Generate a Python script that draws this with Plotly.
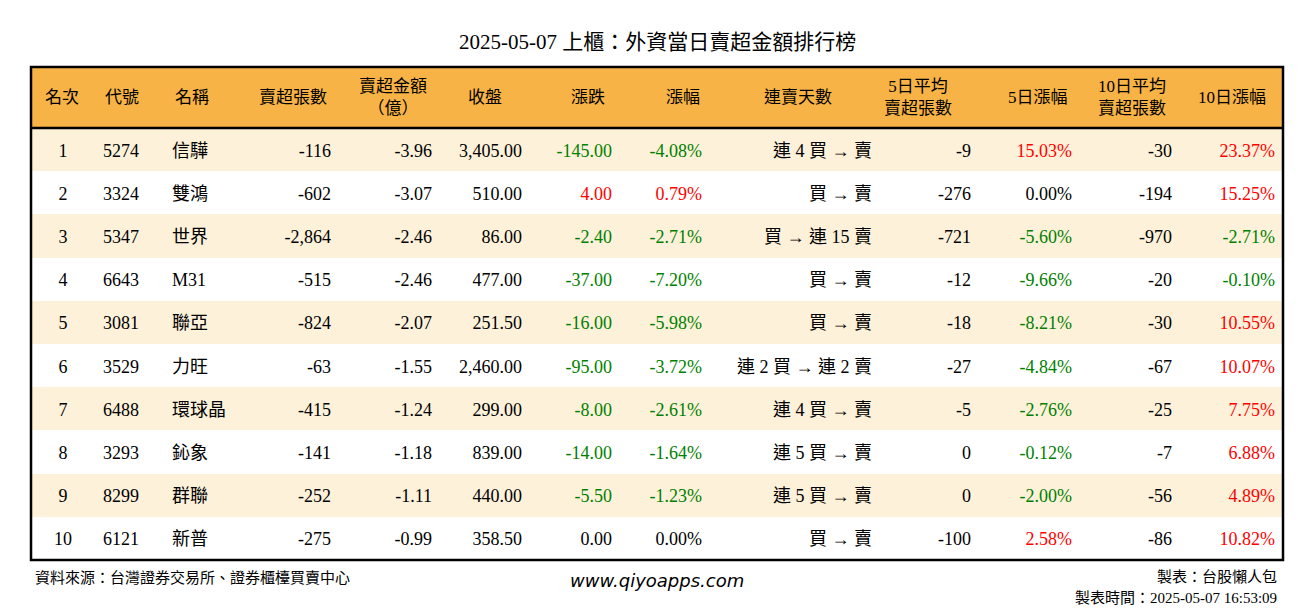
import plotly.graph_objects as go

rank = [1,2,3,4,5,6,7,8,9,10]
code = ["5274","3324","5347","6643","3081","3529","6488","3293","8299","6121"]
name = ["信驊","雙鴻","世界","M31","聯亞","力旺","環球晶","鈊象","群聯","新普"]
sell_vol = [-116,-602,-2864,-515,-824,-63,-415,-141,-252,-275]
sell_amt = [-3.96,-3.07,-2.46,-2.46,-2.07,-1.55,-1.24,-1.18,-1.11,-0.99]
close = [3405.00,510.00,86.00,477.00,251.50,2460.00,299.00,839.00,440.00,358.50]
chg = [-145.00,4.00,-2.40,-37.00,-16.00,-95.00,-8.00,-14.00,-5.50,0.00]
pct = [-4.08,0.79,-2.71,-7.20,-5.98,-3.72,-2.61,-1.64,-1.23,0.00]
streak = ["連 4 買 → 賣","買 → 賣","買 → 連 15 賣","買 → 賣","買 → 賣","連 2 買 → 連 2 賣","連 4 買 → 賣","連 5 買 → 賣","連 5 買 → 賣","買 → 賣"]
avg5 = [-9,-276,-721,-12,-18,-27,-5,0,0,-100]
pct5 = [15.03,0.00,-5.60,-9.66,-8.21,-4.84,-2.76,-0.12,-2.00,2.58]
avg10 = [-30,-194,-970,-20,-30,-67,-25,-7,-56,-86]
pct10 = [23.37,15.25,-2.71,-0.10,10.55,10.07,7.75,6.88,4.89,10.82]

headers = ["名次","代號","名稱","賣超張數","賣超金額<br>（億）","收盤","漲跌","漲幅","連賣天數","5日平均<br>賣超張數","5日漲幅","10日平均<br>賣超張數","10日漲幅"]
W, H = 1314, 612
bounds = [31,95,164,240,339,440,530,620,710,880,979,1080,1180,1283]
widths = [bounds[i+1]-bounds[i] for i in range(13)]
hx = [62,122,192,293,393,485,588,683,798,918,1038,1132,1232]

def col(v):
    return "#008000" if v < 0 else ("#ff0000" if v > 0 else "#000000")

black = ["#000000"]*10
cols = [
    [str(r) for r in rank], code, name,
    [f"{v:,}" for v in sell_vol], [f"{v:.2f}" for v in sell_amt],
    [f"{v:,.2f}" for v in close], [f"{v:.2f}" for v in chg],
    [f"{v:.2f}%" for v in pct], streak,
    [f"{v:,}" for v in avg5], [f"{v:.2f}%" for v in pct5],
    [f"{v:,}" for v in avg10], [f"{v:.2f}%" for v in pct10],
]
colors = [black,black,black,black,black,black,[col(v) for v in chg],[col(v) for v in pct],black,black,
          [col(v) for v in pct5],black,[col(v) for v in pct10]]
fills = ["#fdf1da" if i % 2 == 0 else "#ffffff" for i in range(10)]
al = ["center","left","left","right","right","right","right","right","right","right","right","right","right"]

font = "Liberation Serif, Noto Sans CJK TC, serif"
SH = 7
noline = dict(width=0, color="rgba(0,0,0,0)")
bg = go.Table(
    columnwidth=widths,
    domain=dict(x=[31/W, 1283/W], y=[0, 1-67/H]),
    header=dict(values=[""]*13, fill_color="#f7b345", line=noline, height=61),
    cells=dict(values=[[""]*10]*13, fill_color=[fills]*13, line=noline, height=43.2),
)
fg = go.Table(
    columnwidth=widths,
    domain=dict(x=[31/W, 1283/W], y=[0, 1-(67+SH)/H]),
    header=dict(values=[""]*13, fill_color="rgba(0,0,0,0)", line=noline, height=61),
    cells=dict(values=cols, fill_color="rgba(0,0,0,0)", line=noline,
               align=al, height=43.2, font=dict(family=font, size=18, color=colors)),
)
fig = go.Figure([bg, fg])
ann = [
    dict(text="2025-05-07 上櫃：外資當日賣超金額排行榜", x=0.5, y=1-42/H,
         font=dict(family=font, size=21, color="#000")),
    dict(text="資料來源：台灣證券交易所、證券櫃檯買賣中心", x=33/W, y=1-577/H, xanchor="left",
         font=dict(family=font, size=15, color="#000")),
    dict(text="<i>www.qiyoapps.com</i>", x=657/W, y=1-580/H, xanchor="center",
         font=dict(family="DejaVu Sans, sans-serif", size=18, color="#000")),
    dict(text="製表：台股懶人包", x=1279/W, y=1-577/H, xanchor="right",
         font=dict(family=font, size=15, color="#000")),
    dict(text="製表時間：2025-05-07 16:53:09", x=1279/W, y=1-598/H, xanchor="right",
         font=dict(family=font, size=15, color="#000")),
]
for h, x in zip(headers, hx):
    ann.append(dict(text=h, x=x/W, y=1-97/H, xanchor="center",
                    font=dict(family=font, size=17, color="#000"), align="center"))
for a in ann:
    a.update(xref="paper", yref="paper", showarrow=False, yanchor="middle")
fig.update_layout(
    width=W, height=H, margin=dict(l=0, r=0, t=0, b=0), paper_bgcolor="white",
    shapes=[
        dict(type="rect", xref="paper", yref="paper", x0=31/W, x1=1283/W, y0=1-560/H, y1=1-67/H,
             line=dict(color="black", width=2.5)),
        dict(type="line", xref="paper", yref="paper", x0=31/W, x1=1283/W, y0=1-128/H, y1=1-128/H,
             line=dict(color="black", width=2.5)),
    ],
    annotations=ann,
)
fig.write_html("out.html", config={"displayModeBar": False},
               post_script="document.body.style.margin='0';")
